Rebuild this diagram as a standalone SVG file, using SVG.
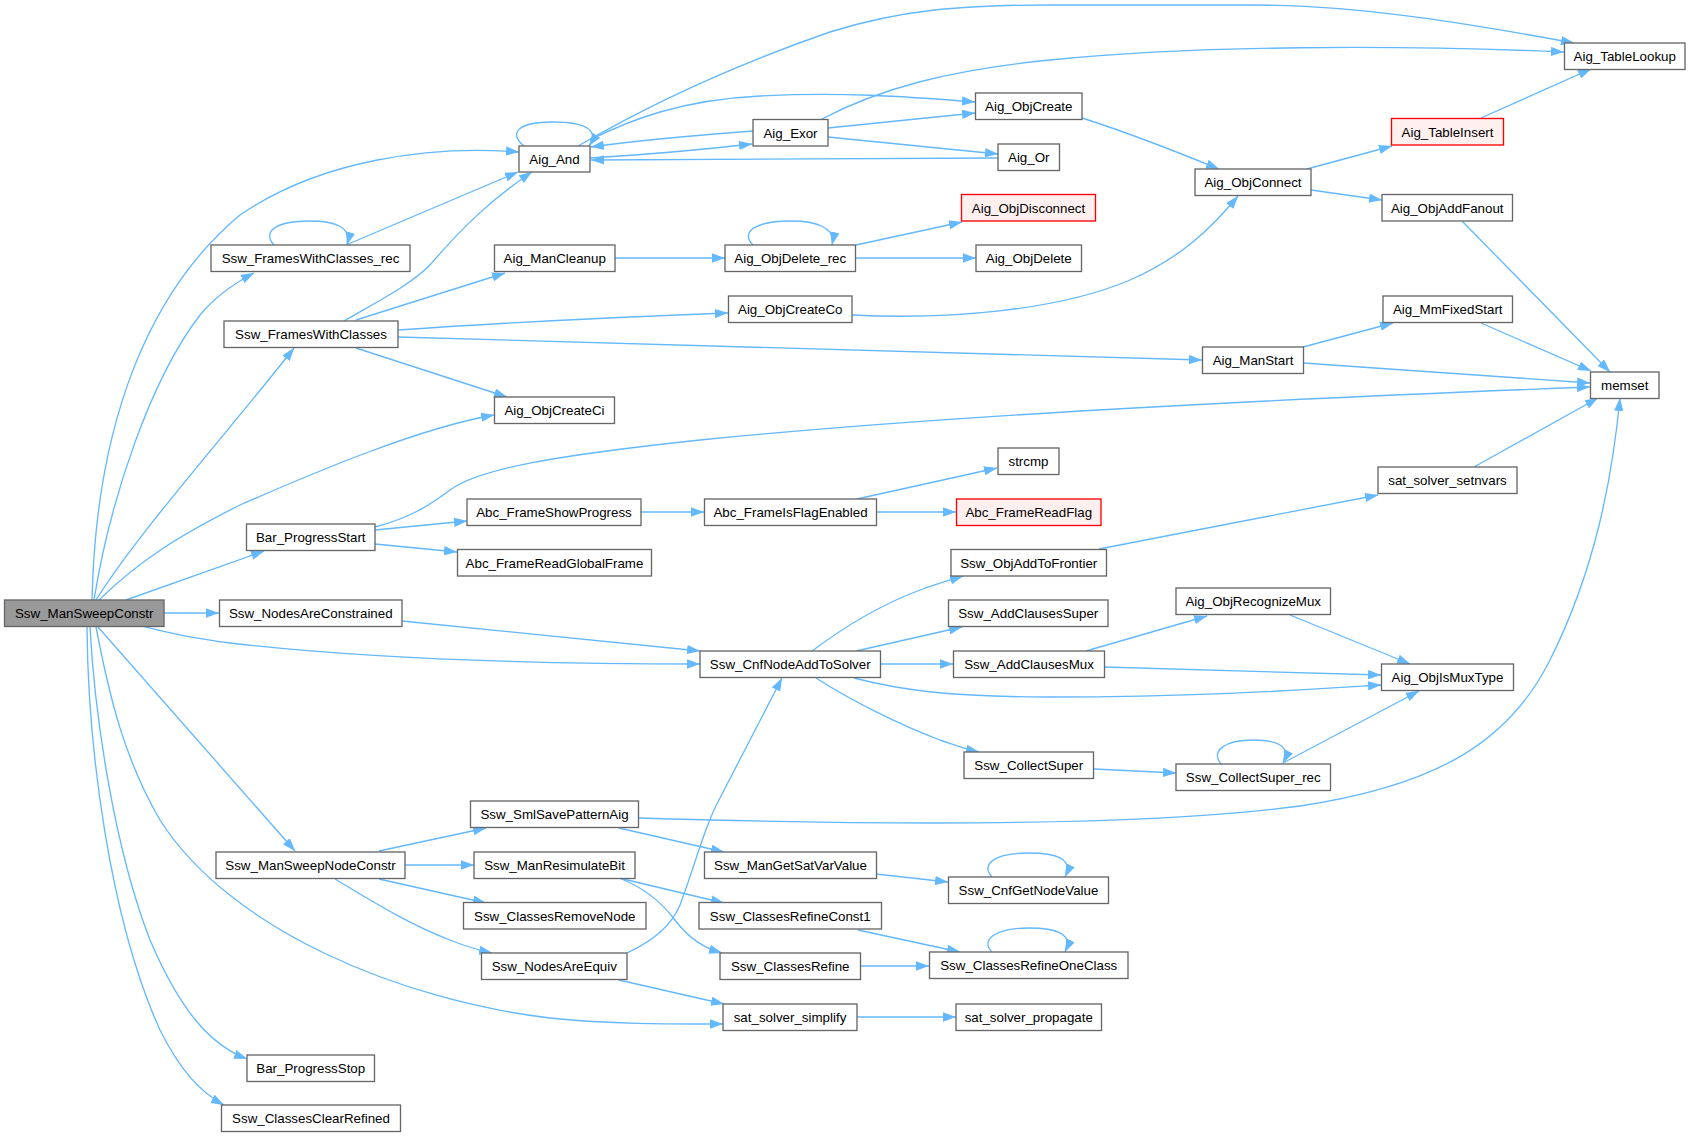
<svg xmlns="http://www.w3.org/2000/svg" width="1690" height="1137" viewBox="0 0 1690 1137">
<style>
.n rect{fill:#ffffff;stroke:#666666;stroke-width:1.33}
.n.root rect{fill:#999999}
.n.red rect{fill:#fff0f0;stroke:#ff0000}
.n text{font-family:"Liberation Sans",Arial,sans-serif;font-size:13.33px;text-anchor:middle;fill:#000000}
#edges path{fill:none;stroke:#63b8ff;stroke-width:1.33;marker-end:url(#arr)}
</style>
<defs>
<marker id="arr" viewBox="0 0 13.3 9.3" refX="13" refY="4.65" markerWidth="13.3" markerHeight="9.3" markerUnits="userSpaceOnUse" orient="auto"><path d="M0,0 L13.3,4.65 L0,9.3 z" fill="#63b8ff"/></marker>
</defs>
<rect x="0" y="0" width="1690" height="1137" fill="#ffffff"/>
<g id="edges">
<path d="M92,600 C96,420 150,290 240,215 C320,160 430,145 519,152"/>
<path d="M94,600 C110,500 150,380 200,315 C215,297 233,284 254,273"/>
<path d="M96,600 C140,530 230,430 294,348"/>
<path d="M99,600 C140,560 180,535 240,505 C320,470 420,428 494,415"/>
<path d="M126,600 L264,551"/>
<path d="M164,613 L219,613"/>
<path d="M145,627 C170,633 190,638 230,643 C350,657 500,664 700,664"/>
<path d="M98,627 L295,851"/>
<path d="M96,627 C110,700 125,760 160,820 C230,930 400,1000 550,1018 C620,1025 680,1024 723,1024"/>
<path d="M90,627 C95,720 115,850 150,940 C180,1010 210,1045 247,1059"/>
<path d="M87,627 C88,750 110,920 160,1030 C180,1070 200,1092 224,1105"/>
<path d="M524,146 C508,133 518,122 553,122 C585,122 600,130 589,146"/>
<path d="M578,146 C640,110 720,70 830,32 C900,10 960,5 1050,5 L1250,5 C1350,5 1450,20 1574,43"/>
<path d="M590,140 C630,120 680,100 760,96 C840,92 900,96 975,102"/>
<path d="M590,158 C640,155 700,150 752,144"/>
<path d="M753,131 C700,135 640,140 591,147"/>
<path d="M998,158 L591,160"/>
<path d="M820,120 C880,88 950,70 1050,60 C1200,45 1400,45 1564,52"/>
<path d="M828,128 L975,113"/>
<path d="M828,137 L998,154"/>
<path d="M1082,118 C1120,130 1160,145 1219,169"/>
<path d="M1307,169 L1392,146"/>
<path d="M1311,190 L1382,200"/>
<path d="M1481,118 L1591,69"/>
<path d="M1462,221 L1610,372"/>
<path d="M1481,323 L1591,371"/>
<path d="M1303,347 L1393,323"/>
<path d="M1303,363 L1590,383"/>
<path d="M375,527 C410,518 430,505 450,490 C480,468 560,455 700,440 C950,415 1300,398 1590,387"/>
<path d="M1474,467 L1598,398"/>
<path d="M639,818 C900,826 1150,826 1300,806 C1440,785 1510,740 1550,660 C1595,570 1612,480 1620,398"/>
<path d="M274,245 C262,232 275,221 310,221 C335,221 352,227 347,245"/>
<path d="M346,245 L518,172"/>
<path d="M344,321 C380,300 410,285 430,265 C460,230 490,200 532,172"/>
<path d="M356,320 L505,273"/>
<path d="M398,330 C500,323 620,317 728,313"/>
<path d="M398,337 C700,346 1000,353 1202,360"/>
<path d="M356,348 L507,397"/>
<path d="M615,258 L725,258"/>
<path d="M753,245 C740,232 755,221 791,221 C815,221 836,227 832,245"/>
<path d="M856,245 L962,222"/>
<path d="M856,258 L976,258"/>
<path d="M852,315 C950,320 1060,310 1130,280 C1180,258 1210,230 1238,196"/>
<path d="M375,530 L467,521"/>
<path d="M375,544 L457,552"/>
<path d="M641,512 L704,512"/>
<path d="M857,499 L997,468"/>
<path d="M876,512 L956,512"/>
<path d="M1099,549 L1378,495"/>
<path d="M402,621 C500,630 600,640 700,651"/>
<path d="M812,651 C840,630 880,605 920,590 C935,584 950,580 963,576"/>
<path d="M856,651 L962,627"/>
<path d="M880,664 L953,664"/>
<path d="M854,678 C900,690 950,697 1050,697 C1200,697 1300,690 1381,685"/>
<path d="M816,678 C850,700 900,725 940,740 C955,745 965,749 979,752"/>
<path d="M1086,651 L1207,616"/>
<path d="M1104,667 L1381,675"/>
<path d="M1290,615 L1410,664"/>
<path d="M1094,769 L1176,773"/>
<path d="M1221,764 C1210,751 1225,740 1253,740 C1275,740 1292,745 1283,763"/>
<path d="M1283,763 L1419,691"/>
<path d="M379,851 L486,828"/>
<path d="M405,865 L474,865"/>
<path d="M379,879 L486,903"/>
<path d="M335,879 C370,900 410,925 450,940 C465,946 478,950 492,953"/>
<path d="M619,828 L724,852"/>
<path d="M619,878 L724,903"/>
<path d="M619,878 C640,886 660,900 675,920 C690,940 705,948 722,953"/>
<path d="M627,953 C655,940 672,925 680,905 C695,865 705,825 720,798 L782,678"/>
<path d="M619,980 L724,1004"/>
<path d="M876,874 L948,882"/>
<path d="M992,877 C980,864 995,853 1029,853 C1055,853 1074,858 1065,877"/>
<path d="M858,930 L960,952"/>
<path d="M861,966 L929,966"/>
<path d="M992,952 C980,940 995,928 1029,928 C1055,928 1074,933 1065,952"/>
<path d="M857,1017 L956,1017"/>
</g>
<g id="n_root" class="n root"><rect x="4.5" y="600" width="159.5" height="26.5"/><text x="84.25" y="618.3">Ssw_ManSweepConstr</text></g>
<g id="n_aig_and" class="n"><rect x="519" y="146" width="71" height="26"/><text x="554.5" y="164">Aig_And</text></g>
<g id="n_frames_rec" class="n"><rect x="211" y="245" width="199" height="26.5"/><text x="310.5" y="263.3">Ssw_FramesWithClasses_rec</text></g>
<g id="n_frames" class="n"><rect x="224" y="321" width="174" height="26.5"/><text x="311" y="339.3">Ssw_FramesWithClasses</text></g>
<g id="n_mancleanup" class="n"><rect x="494.5" y="245" width="120.5" height="26.5"/><text x="554.75" y="263.3">Aig_ManCleanup</text></g>
<g id="n_createci" class="n"><rect x="494.5" y="397" width="120" height="26.5"/><text x="554.5" y="415.3">Aig_ObjCreateCi</text></g>
<g id="n_exor" class="n"><rect x="753" y="119.5" width="75" height="26.5"/><text x="790.5" y="137.8">Aig_Exor</text></g>
<g id="n_objcreate" class="n"><rect x="975.5" y="93" width="106.5" height="26.5"/><text x="1028.75" y="111.3">Aig_ObjCreate</text></g>
<g id="n_or" class="n"><rect x="998" y="144" width="61.5" height="26.5"/><text x="1028.75" y="162.3">Aig_Or</text></g>
<g id="n_disconnect" class="n red"><rect x="961.5" y="194.5" width="134" height="26.5"/><text x="1028.5" y="212.8">Aig_ObjDisconnect</text></g>
<g id="n_delete_rec" class="n"><rect x="725" y="245" width="130.5" height="26.5"/><text x="790.25" y="263.3">Aig_ObjDelete_rec</text></g>
<g id="n_delete" class="n"><rect x="976" y="245" width="105.5" height="26.5"/><text x="1028.75" y="263.3">Aig_ObjDelete</text></g>
<g id="n_createco" class="n"><rect x="728.5" y="296" width="123.5" height="26.5"/><text x="790.25" y="314.3">Aig_ObjCreateCo</text></g>
<g id="n_tablelookup" class="n"><rect x="1564.5" y="43" width="120.5" height="26.5"/><text x="1624.75" y="61.3">Aig_TableLookup</text></g>
<g id="n_tableinsert" class="n red"><rect x="1391.5" y="118.5" width="112" height="26.5"/><text x="1447.5" y="136.8">Aig_TableInsert</text></g>
<g id="n_objconnect" class="n"><rect x="1195" y="169" width="116" height="26.5"/><text x="1253" y="187.3">Aig_ObjConnect</text></g>
<g id="n_addfanout" class="n"><rect x="1382" y="194.5" width="130.5" height="26.5"/><text x="1447.25" y="212.8">Aig_ObjAddFanout</text></g>
<g id="n_mmfixed" class="n"><rect x="1383" y="296" width="129.5" height="26.5"/><text x="1447.75" y="314.3">Aig_MmFixedStart</text></g>
<g id="n_manstart" class="n"><rect x="1202.5" y="347" width="101" height="26.5"/><text x="1253" y="365.3">Aig_ManStart</text></g>
<g id="n_memset" class="n"><rect x="1590.5" y="372" width="68.5" height="26.5"/><text x="1624.75" y="390.3">memset</text></g>
<g id="n_barstart" class="n"><rect x="246.5" y="524" width="128.5" height="26.5"/><text x="310.75" y="542.3">Bar_ProgressStart</text></g>
<g id="n_showprogress" class="n"><rect x="467" y="499" width="174" height="26.5"/><text x="554" y="517.3">Abc_FrameShowProgress</text></g>
<g id="n_readglobal" class="n"><rect x="457.5" y="549.5" width="194" height="26.5"/><text x="554.5" y="567.8">Abc_FrameReadGlobalFrame</text></g>
<g id="n_constrained" class="n"><rect x="219.5" y="600" width="182.5" height="26.5"/><text x="310.75" y="618.3">Ssw_NodesAreConstrained</text></g>
<g id="n_strcmp" class="n"><rect x="998" y="448" width="61" height="26.5"/><text x="1028.5" y="466.3">strcmp</text></g>
<g id="n_flagenabled" class="n"><rect x="704.5" y="499" width="172" height="26.5"/><text x="790.5" y="517.3">Abc_FrameIsFlagEnabled</text></g>
<g id="n_readflag" class="n red"><rect x="956.5" y="499" width="144.5" height="26.5"/><text x="1028.75" y="517.3">Abc_FrameReadFlag</text></g>
<g id="n_frontier" class="n"><rect x="951" y="549.5" width="155.5" height="26.5"/><text x="1028.75" y="567.8">Ssw_ObjAddToFrontier</text></g>
<g id="n_clsuper" class="n"><rect x="948.5" y="600" width="159.5" height="26.5"/><text x="1028.25" y="618.3">Ssw_AddClausesSuper</text></g>
<g id="n_cnfadd" class="n"><rect x="700" y="651" width="180.5" height="26.5"/><text x="790.25" y="669.3">Ssw_CnfNodeAddToSolver</text></g>
<g id="n_clmux" class="n"><rect x="953.5" y="651" width="151" height="26.5"/><text x="1029" y="669.3">Ssw_AddClausesMux</text></g>
<g id="n_collectsuper" class="n"><rect x="964" y="752" width="129.5" height="26.5"/><text x="1028.75" y="770.3">Ssw_CollectSuper</text></g>
<g id="n_setnvars" class="n"><rect x="1378" y="467" width="139" height="26.5"/><text x="1447.5" y="485.3">sat_solver_setnvars</text></g>
<g id="n_recmux" class="n"><rect x="1176" y="588" width="154.5" height="26.5"/><text x="1253.25" y="606.3">Aig_ObjRecognizeMux</text></g>
<g id="n_ismux" class="n"><rect x="1381.5" y="664" width="132" height="26.5"/><text x="1447.5" y="682.3">Aig_ObjIsMuxType</text></g>
<g id="n_collectsuper_rec" class="n"><rect x="1176" y="764" width="154.5" height="26.5"/><text x="1253.25" y="782.3">Ssw_CollectSuper_rec</text></g>
<g id="n_savepattern" class="n"><rect x="470.5" y="801" width="168" height="26.5"/><text x="554.5" y="819.3">Ssw_SmlSavePatternAig</text></g>
<g id="n_nodeconstr" class="n"><rect x="216" y="852" width="189" height="26.5"/><text x="310.5" y="870.3">Ssw_ManSweepNodeConstr</text></g>
<g id="n_resim" class="n"><rect x="474" y="852" width="161" height="26.5"/><text x="554.5" y="870.3">Ssw_ManResimulateBit</text></g>
<g id="n_removenode" class="n"><rect x="463.5" y="902.5" width="182.5" height="26.5"/><text x="554.75" y="920.8">Ssw_ClassesRemoveNode</text></g>
<g id="n_areequiv" class="n"><rect x="481.5" y="953" width="145.5" height="26.5"/><text x="554.25" y="971.3">Ssw_NodesAreEquiv</text></g>
<g id="n_barstop" class="n"><rect x="247" y="1055" width="127.5" height="26.5"/><text x="310.75" y="1073.3">Bar_ProgressStop</text></g>
<g id="n_clearrefined" class="n"><rect x="221.5" y="1105" width="179" height="26.5"/><text x="311" y="1123.3">Ssw_ClassesClearRefined</text></g>
<g id="n_getsatvar" class="n"><rect x="704.5" y="852" width="172" height="26.5"/><text x="790.5" y="870.3">Ssw_ManGetSatVarValue</text></g>
<g id="n_cnfgetnode" class="n"><rect x="948.5" y="877" width="160" height="26.5"/><text x="1028.5" y="895.3">Ssw_CnfGetNodeValue</text></g>
<g id="n_refineconst1" class="n"><rect x="699" y="902.5" width="182.5" height="26.5"/><text x="790.25" y="920.8">Ssw_ClassesRefineConst1</text></g>
<g id="n_refine" class="n"><rect x="720" y="953" width="140.5" height="26.5"/><text x="790.25" y="971.3">Ssw_ClassesRefine</text></g>
<g id="n_refineone" class="n"><rect x="929.5" y="952" width="198.5" height="26.5"/><text x="1028.75" y="970.3">Ssw_ClassesRefineOneClass</text></g>
<g id="n_simplify" class="n"><rect x="723" y="1004" width="134" height="26.5"/><text x="790" y="1022.3">sat_solver_simplify</text></g>
<g id="n_propagate" class="n"><rect x="956" y="1004" width="145.5" height="26.5"/><text x="1028.75" y="1022.3">sat_solver_propagate</text></g>
</svg>
